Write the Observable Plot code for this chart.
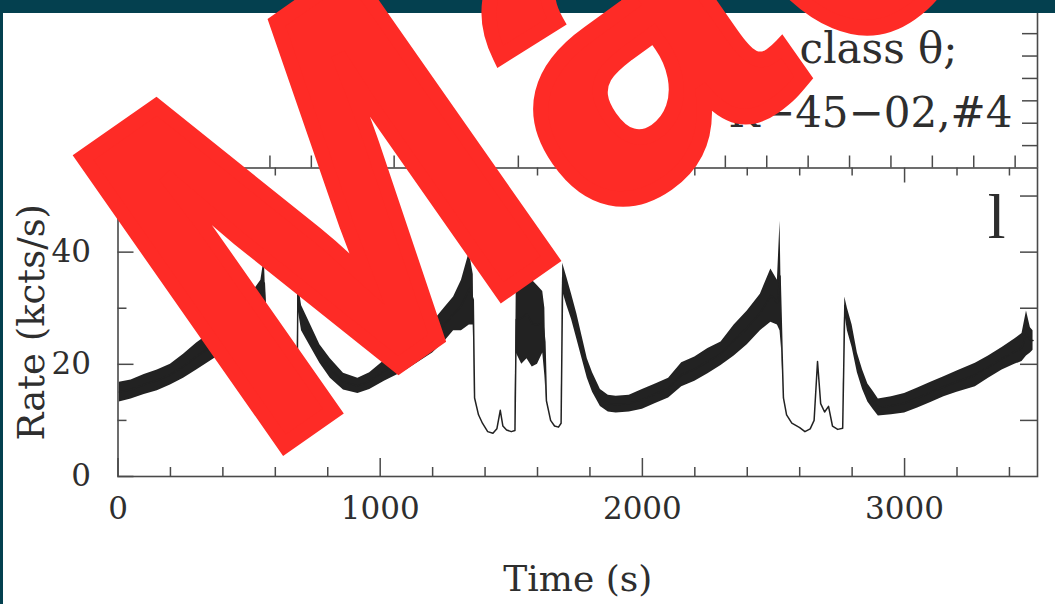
<!DOCTYPE html>
<html>
<head>
<meta charset="utf-8">
<script src="https://cdn.jsdelivr.net/npm/d3@7"></script>
<script src="https://cdn.jsdelivr.net/npm/@observablehq/plot@0.6"></script>
<style>
  html, body { margin: 0; padding: 0; background: #fff; }
  #page { position: relative; width: 1055px; height: 604px; overflow: hidden; background: #fff; }
  #page > * { position: absolute; left: 0; top: 0; }
  #bar { width: 1055px; height: 13px; background: #04404f; }
  #side { width: 3px; height: 604px; background: #04404f; }
  #mark { pointer-events: none; }
</style>
</head>
<body>
<div id="page">
  <div id="main"></div>
  <div id="topPanel"></div>
  <div id="bar"></div>
  <div id="side"></div>
  <svg id="mark" width="1055" height="604" viewBox="0 0 1055 604">
    <text id="markText" transform="translate(259,463) rotate(-35) scale(0.912,1)"
      font-family="'Liberation Sans', Arial, sans-serif" font-weight="700" font-size="510"
      letter-spacing="20" fill="#fe2b26" stroke="#fe2b26" stroke-width="16" stroke-linejoin="miter">Made</text>
  </svg>
</div>
<script>
// ---- data (time in s, rate in kcts/s: lower / upper edge of the noisy band) ----
const times = [5, 50, 100, 150, 200, 250, 300, 350, 400, 450, 500, 545, 558, 564, 570, 600, 640, 675, 682,
  686, 700, 730, 770, 810, 860, 915, 960, 1016, 1060, 1100, 1150, 1200, 1244, 1280, 1310, 1340, 1355,
  1360, 1375, 1390, 1410, 1430, 1445, 1458, 1468, 1482, 1500, 1514,
  1519, 1540, 1560, 1580, 1600, 1620, 1628,
  1634, 1650, 1665, 1680, 1690, 1696, 1712, 1730, 1750, 1770, 1790, 1810, 1840, 1870, 1900, 1950, 2000,
  2050, 2100, 2150, 2200, 2250, 2300, 2350, 2400, 2450, 2490, 2515, 2525, 2532,
  2538, 2550, 2570, 2600, 2620, 2640, 2655, 2668, 2680, 2695, 2710, 2725, 2745, 2764,
  2772, 2782, 2800, 2820, 2840, 2860, 2880, 2900, 2950, 3000, 3050, 3100, 3150, 3200, 3270, 3320, 3372,
  3420, 3448, 3465, 3480, 3490];
const rateLo = [13.3, 13.8, 14.6, 15.3, 16.3, 17.5, 19.0, 20.5, 22.0, 24.0, 26.5, 29.0, 30.0, 26.0, 10.0, 8.5, 8.2, 8.8, 9.0,
  30.0, 26.0, 23.5, 20.2, 17.5, 15.4, 14.8, 15.5, 17.0, 18.0, 19.0, 20.5, 22.0, 24.0, 26.0, 26.0, 27.0, 27.0,
  14.0, 11.0, 9.5, 8.0, 7.7, 8.5, 11.8, 9.0, 8.3, 8.0, 8.2,
  22.0, 20.0, 21.0, 19.5, 20.0, 22.0, 18.0,
  13.5, 10.0, 9.0, 8.8, 9.5, 33.0, 30.5, 28.0, 24.5, 21.0, 17.5, 15.0, 12.5, 11.5, 11.3, 11.5, 12.0,
  13.0, 14.0, 16.0, 17.0, 18.3, 19.8, 21.5, 23.5, 26.0, 27.5, 27.0, 26.0, 22.0,
  14.0, 11.0, 9.5, 8.7, 8.0, 8.5, 10.0, 20.5, 13.0, 11.5, 12.5, 9.0, 8.4, 8.6,
  29.0, 26.0, 23.0, 18.5, 15.5, 13.3, 12.0, 10.8, 11.0, 11.3, 12.2, 13.2, 14.2, 15.0, 16.0, 17.5, 19.0,
  20.0, 20.5, 21.5, 22.0, 22.5];
const rateHi = [16.8, 17.2, 18.2, 19.0, 20.0, 21.8, 23.8, 25.5, 27.5, 29.5, 32.0, 35.0, 39.0, 31.0, 10.0, 8.5, 8.2, 8.8, 9.0,
  35.0, 30.5, 27.5, 23.5, 21.0, 18.4, 17.5, 18.5, 20.7, 22.0, 23.5, 25.5, 27.5, 30.0, 32.0, 35.0, 40.0, 36.0,
  14.0, 11.0, 9.5, 8.0, 7.7, 8.5, 11.8, 9.0, 8.3, 8.0, 8.2,
  34.0, 36.5, 37.0, 35.0, 34.0, 33.0, 30.0,
  13.5, 10.0, 9.0, 8.8, 9.5, 38.0, 35.5, 32.5, 29.0, 25.0, 21.0, 18.5, 15.5, 14.5, 14.3, 14.5, 15.5,
  16.5, 17.5, 20.3, 21.3, 22.8, 24.0, 27.0, 29.5, 32.5, 37.0, 35.0, 45.5, 25.0,
  14.0, 11.0, 9.5, 8.7, 8.0, 8.5, 10.0, 20.5, 13.0, 11.5, 12.5, 9.0, 8.4, 8.6,
  32.0, 30.0, 27.0, 22.0, 19.0, 16.5, 15.2, 13.8, 14.2, 14.8, 15.8, 16.8, 17.8, 18.8, 20.2, 21.5, 23.0,
  24.5, 25.5, 29.5, 26.5, 26.0];

// ---- axes / ticks ----
const xMajorTicks = [0, 1000, 2000, 3000];
const xMinorTicks = [200, 400, 600, 800, 1200, 1400, 1600, 1800, 2200, 2400, 2600, 2800, 3200, 3400];
const yMajorTicks = [0, 20, 40];
const yMinorTicks = [10, 30, 50];
const yRightTicks = [10, 20, 30, 40, 50];
const topXTicks = [100, 200, 300, 400, 500, 600, 700, 800, 900, 1000, 1100, 1200, 1300, 1400, 1500, 1600, 1700, 1800, 1900, 2000, 2100, 2200];
const topYTicks = [10, 20, 30, 40, 50, 60];

// ---- texts ----
const xLabel = "Time (s)";
const yLabel = "Rate (kcts/s)";
const panelLabel = "l";
const titleLines = ["class θ;", "K−45−02,#4"];

const data = times.map((t, i) => ({t, lo: rateLo[i], hi: rateHi[i], mid: (rateLo[i] + rateHi[i]) / 2}));

const W = 1055, H = 604;
const mL = 117.5, mR = 18, mT = 167.5, mB = 128;
const frameH = H - mT - mB;
const frameW = W - mL - mR;
const ink = "#222", axisInk = "#4a4a4a", textInk = "#2e2e2e";
const font = "'DejaVu Serif', 'Liberation Serif', serif";

const main = Plot.plot({
  width: W, height: H,
  marginLeft: mL, marginRight: mR, marginTop: mT, marginBottom: mB,
  x: {domain: [0, 3507]},
  y: {domain: [0, 55]},
  style: {fontFamily: font, background: "transparent", color: textInk},
  marks: [
    Plot.areaY(data, {x: "t", y1: "lo", y2: "hi", fill: ink}),
    Plot.lineY(data, {x: "t", y: "mid", stroke: ink, strokeWidth: 1.5}),
    Plot.frame({stroke: axisInk, strokeWidth: 1.6}),
    Plot.ruleX(xMajorTicks, {x: d => d, insetTop: frameH - 18, stroke: axisInk, strokeWidth: 1.5}),
    Plot.ruleX(xMinorTicks, {x: d => d, insetTop: frameH - 9, stroke: axisInk, strokeWidth: 1.5}),
    Plot.ruleX(xMajorTicks, {x: d => d, insetBottom: frameH - 15, stroke: axisInk, strokeWidth: 1.5}),
    Plot.ruleX(xMinorTicks, {x: d => d, insetBottom: frameH - 8, stroke: axisInk, strokeWidth: 1.5}),
    Plot.ruleY(yMajorTicks, {y: d => d, insetRight: frameW - 16, stroke: axisInk, strokeWidth: 1.5}),
    Plot.ruleY(yMinorTicks, {y: d => d, insetRight: frameW - 9, stroke: axisInk, strokeWidth: 1.5}),
    Plot.ruleY(yRightTicks, {y: d => d, insetLeft: frameW - 17, stroke: axisInk, strokeWidth: 1.5}),
    Plot.axisX(xMajorTicks, {tickSize: 0, tickPadding: 20, fontSize: 31, label: null, fill: textInk, tickFormat: d => String(d)}),
    Plot.axisY(yMajorTicks, {tickSize: 0, tickPadding: 27, fontSize: 31, label: null, fill: textInk, tickFormat: d => String(d)}),
    Plot.text([xLabel], {text: d => d, frameAnchor: "bottom", dy: 103, fontSize: 36, lineAnchor: "middle", textAnchor: "middle", fill: textInk}),
    Plot.text([yLabel], {text: d => d, frameAnchor: "left", dx: -86, rotate: -90, fontSize: 37, lineAnchor: "middle", textAnchor: "middle", fill: textInk}),
    Plot.text([panelLabel], {text: d => d, frameAnchor: "top-right", dx: -32, dy: 69.5, fontSize: 64, lineAnchor: "bottom", textAnchor: "end", fill: textInk, fontFamily: "'Liberation Serif', serif"})
  ]
});
document.getElementById("main").appendChild(main);

const topMB = H - 167.5;
const topH = 167.5 - 13;
const topPlot = Plot.plot({
  width: W, height: H,
  marginLeft: mL, marginRight: mR, marginTop: 13, marginBottom: topMB,
  x: {domain: [33, 2254], axis: null},
  y: {domain: [0, 69], axis: null},
  style: {fontFamily: font, background: "transparent", color: textInk},
  marks: [
    Plot.ruleX([2254], {x: d => d, stroke: axisInk, strokeWidth: 1.6}),
    Plot.ruleX(topXTicks, {x: d => d, insetTop: topH - 12, stroke: axisInk, strokeWidth: 1.5}),
    Plot.ruleY(topYTicks, {y: d => d, insetLeft: frameW - 15, stroke: axisInk, strokeWidth: 1.5}),
    Plot.text([titleLines[0]], {text: d => d, frameAnchor: "top-right", dx: -80, dy: 49, lineAnchor: "bottom", textAnchor: "end", fontSize: 42, fill: textInk}),
    Plot.text([titleLines[1]], {text: d => d, frameAnchor: "top-right", dx: -25, dy: 113, lineAnchor: "bottom", textAnchor: "end", fontSize: 42, fill: textInk})
  ]
});
document.getElementById("topPanel").appendChild(topPlot);
</script>
</body>
</html>
